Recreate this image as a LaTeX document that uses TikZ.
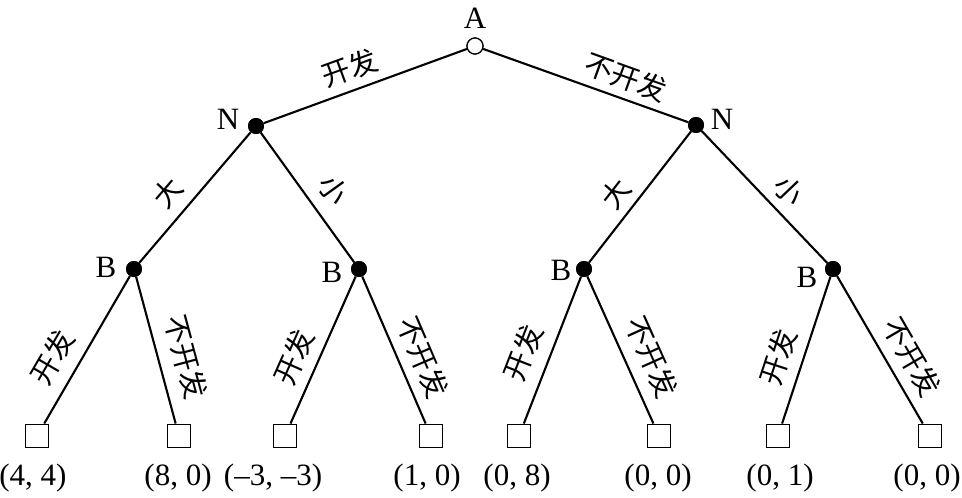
\documentclass[tikz,border=0pt]{standalone}
\usepackage{fontspec}
\setmainfont{Liberation Serif}
\newfontfamily\cjk{Noto Sans CJK SC}
\begin{document}
\begin{tikzpicture}[x=1pt,y=-1pt,
  openpt/.style={circle, draw, line width=1.2pt, fill=white, minimum size=16pt, inner sep=0pt},
  chancept/.style={circle, fill=black, minimum size=16pt, inner sep=0pt},
  leafbox/.style={rectangle, draw, line width=1.9pt, minimum size=23pt, inner sep=0pt},
  lbl/.style={font=\fontsize{31}{31}\selectfont, inner sep=0pt, anchor=base},
  elab/.style={font=\cjk\fontsize{28.5}{28.5}\selectfont, inner sep=0pt, anchor=center},
  branch/.style={line width=2.1pt}]
\useasboundingbox (0,0) rectangle (962,498);
% decision nodes
\node[openpt] (A) at (475,46) {};
\node[chancept] (N1) at (256,126) {};
\node[chancept] (N2) at (696,125) {};
\node[chancept] (B1) at (134,269) {};
\node[chancept] (B2) at (359,269) {};
\node[chancept] (B3) at (584,269) {};
\node[chancept] (B4) at (833,269) {};
% leaves
\node[leafbox] (L1) at (37,436) {};
\node[leafbox] (L2) at (179,436) {};
\node[leafbox] (L3) at (285,436) {};
\node[leafbox] (L4) at (431,436) {};
\node[leafbox] (L5) at (519,436) {};
\node[leafbox] (L6) at (659,436) {};
\node[leafbox] (L7) at (778,436) {};
\node[leafbox] (L8) at (930,436) {};
% branches
\draw[branch] (A) -- (N1);
\draw[branch] (A) -- (N2);
\draw[branch] (N1) -- (B1);
\draw[branch] (N1) -- (B2);
\draw[branch] (N2) -- (B3);
\draw[branch] (N2) -- (B4);
\draw[branch] (B1) -- (L1);
\draw[branch] (B1) -- (L2);
\draw[branch] (B2) -- (L3);
\draw[branch] (B2) -- (L4);
\draw[branch] (B3) -- (L5);
\draw[branch] (B3) -- (L6);
\draw[branch] (B4) -- (L7);
\draw[branch] (B4) -- (L8);
% redraw nodes on top
\node[openpt] at (A) {};
\node[chancept] at (N1) {};
\node[chancept] at (N2) {};
\node[chancept] at (B1) {};
\node[chancept] at (B2) {};
\node[chancept] at (B3) {};
\node[chancept] at (B4) {};
% player labels
\node[lbl] (tA) at (475,28) {A};
\node[lbl] (tN1) at (228,129) {N};
\node[lbl] (tN2) at (722,129) {N};
\node[lbl] (tB1) at (106,277) {B};
\node[lbl] (tB2) at (332,282) {B};
\node[lbl] (tB3) at (561,280) {B};
\node[lbl] (tB4) at (807,287) {B};
% edge labels
\node[elab, rotate=20.1] (e1) at (350,68) {开发};
\node[elab, rotate=-19.7] (e2) at (626,77) {不开发};
\node[elab, rotate=49.5] (e3) at (168,193) {大};
\node[elab, rotate=-54.2] (e4) at (333,190) {小};
\node[elab, rotate=52.1] (e5) at (616,194) {大};
\node[elab, rotate=-46.4] (e6) at (789,190) {小};
\node[elab, rotate=59.8] (e7) at (52,357) {开发};
\node[elab, rotate=-74.9] (e8) at (186,357) {不开发};
\node[elab, rotate=66.1] (e9) at (294,357) {开发};
\node[elab, rotate=-66.7] (e10) at (423,357) {不开发};
\node[elab, rotate=68.7] (e11) at (523,353) {开发};
\node[elab, rotate=-65.8] (e12) at (652,357) {不开发};
\node[elab, rotate=71.8] (e13) at (778,357) {开发};
\node[elab, rotate=-59.8] (e14) at (912,357) {不开发};
% payoffs
\node[lbl] (p1) at (33,485) {(4, 4)};
\node[lbl] (p2) at (178,485) {(8, 0)};
\node[lbl] (p3) at (273,485) {(\textendash3, \textendash3)};
\node[lbl] (p4) at (427,485) {(1, 0)};
\node[lbl] (p5) at (517,485) {(0, 8)};
\node[lbl] (p6) at (658,485) {(0, 0)};
\node[lbl] (p7) at (780,485) {(0, 1)};
\node[lbl] (p8) at (927,485) {(0, 0)};
\end{tikzpicture}
\end{document}
